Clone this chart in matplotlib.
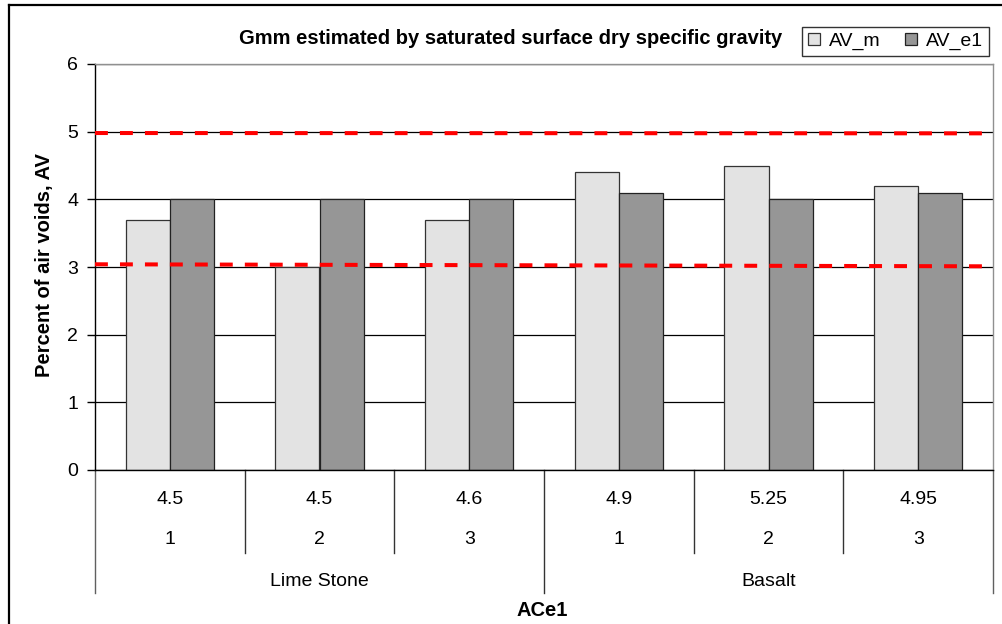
import matplotlib
matplotlib.use("Agg")
import matplotlib.pyplot as plt
from matplotlib.lines import Line2D
import numpy as np

plt.rcParams['font.family'] = ['Liberation Sans', 'DejaVu Sans']

# Data
gmm_values = ["4.5", "4.5", "4.6", "4.9", "5.25", "4.95"]
sample_ids = ["1", "2", "3", "1", "2", "3"]
aggregates = ["Lime Stone", "Basalt"]
av_m = [3.7, 3.0, 3.7, 4.4, 4.5, 4.2]
av_e1 = [4.0, 4.0, 4.0, 4.1, 4.0, 4.1]
upper_limit = [4.98, 4.975]
lower_limit = [3.04, 3.01]

W, H = 1002, 624
FS = 14
FSB = 14.5
fig = plt.figure(figsize=(W / 100, H / 100), dpi=100)

def px(x0, y0, x1, y1):
    return [x0 / W, 1 - y1 / H, (x1 - x0) / W, (y1 - y0) / H]

ax = fig.add_axes(px(95, 64, 993, 470))

n = len(av_m)
x = np.arange(n)
bw = 0.294
ax.bar(x - bw / 2, av_m, bw, color='#E3E3E3', edgecolor='#333333', linewidth=0.9, label='AV_m', zorder=2)
ax.bar(x + bw / 2, av_e1, bw, color='#969696', edgecolor='#222222', linewidth=0.9, label='AV_e1', zorder=2)

ax.set_xlim(-0.5, n - 0.5)
ax.set_ylim(0, 6)
ax.set_yticks(range(0, 7))
ax.tick_params(axis='y', length=6, width=1, labelsize=FS, pad=6, direction='out')
ax.set_xticks([])
ax.yaxis.grid(True, color='black', linewidth=0.9)
ax.set_axisbelow(True)

for s in ['left', 'bottom']:
    ax.spines[s].set_color('black')
    ax.spines[s].set_linewidth(1.0)
for s in ['top', 'right']:
    ax.spines[s].set_color('#909090')
    ax.spines[s].set_linewidth(1.0)

# Specification limits
xs = [-0.5, n - 0.5]
for lim in (upper_limit, lower_limit):
    ax.plot(xs, lim, color='#FF0000', linewidth=2.9, dashes=(3.2, 3.0), zorder=4, clip_on=False)

# Multi-level category axis
trans = ax.get_xaxis_transform()
ah = 470 - 64
def yfrac(py):
    return (470 - py) / ah

for i in range(n):
    ax.text(i, yfrac(500), gmm_values[i], transform=trans, ha='center', va='center', fontsize=FS)
    ax.text(i, yfrac(540), sample_ids[i], transform=trans, ha='center', va='center', fontsize=FS)

per_group = n // len(aggregates)
for g, name in enumerate(aggregates):
    center = g * per_group + (per_group - 1) / 2
    ax.text(center, yfrac(582), name, transform=trans, ha='center', va='center', fontsize=FS)

for b in np.arange(0, n + 1) - 0.5:
    is_group = (b + 0.5) % per_group == 0
    bottom = yfrac(593) if is_group else yfrac(553)
    col = '#606060' if b in (-0.5, n - 0.5) else '#333333'
    ax.add_line(Line2D([b, b], [0, bottom], transform=trans, color=col, linewidth=1.0, clip_on=False))

fig.text(542 / W, 1 - 610 / H, 'ACe1', ha='center', va='center', fontsize=FSB, fontweight='bold')
fig.text(45 / W, 1 - 265 / H, 'Percent of air voids, AV', ha='center', va='center',
         rotation=90, fontsize=FSB, fontweight='bold')
fig.text(511 / W, 1 - 38 / H, 'Gmm estimated by saturated surface dry specific gravity',
         ha='center', va='center', fontsize=FSB, fontweight='bold')

leg = fig.legend(loc='center', bbox_to_anchor=((798 + 993) / 2 / W, 1 - 41.5 / H), ncol=2,
                 frameon=True, fancybox=False, edgecolor='black', fontsize=FS,
                 handlelength=0.6, handleheight=0.6, handletextpad=0.45, columnspacing=1.3,
                 borderpad=0.3, borderaxespad=0)
leg.get_frame().set_linewidth(1.0)

# Chart border
fig.add_artist(Line2D([8.5 / W, 8.5 / W], [0, 1 - 5 / H], transform=fig.transFigure, color='black', linewidth=1.6))
fig.add_artist(Line2D([8.5 / W, 1], [1 - 5 / H, 1 - 5 / H], transform=fig.transFigure, color='black', linewidth=1.6))

fig.savefig('out.png', dpi=100)
